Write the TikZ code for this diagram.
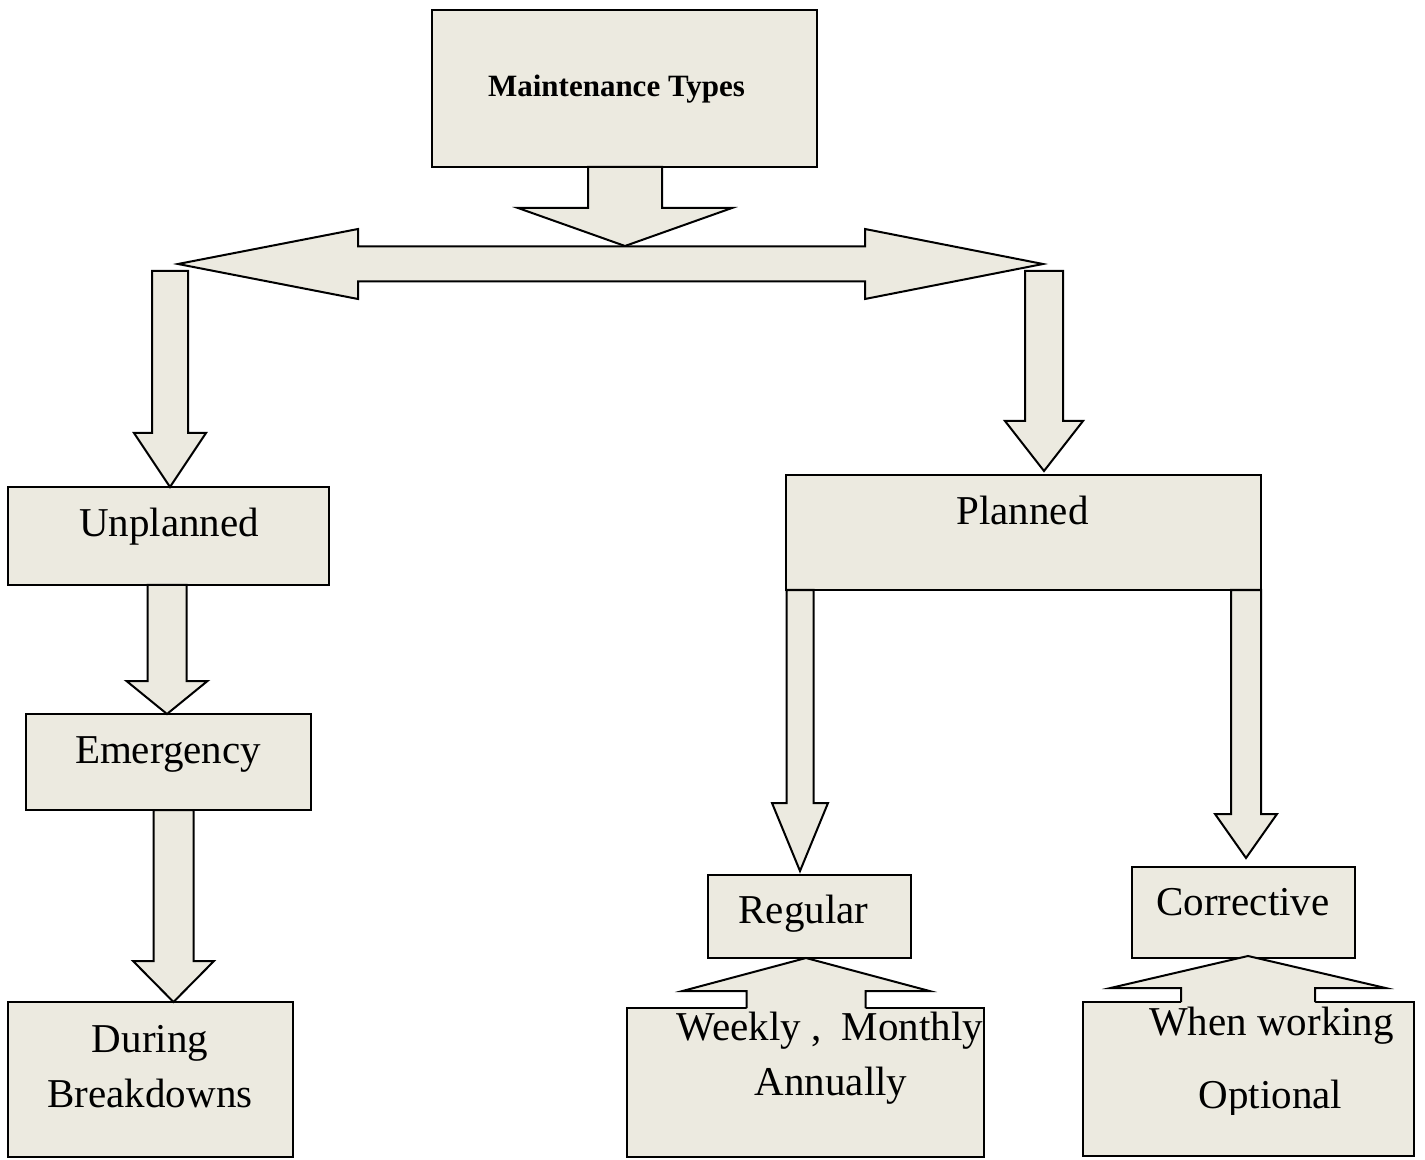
\documentclass[tikz,border=0pt]{standalone}
\usepackage{fontspec}
\setmainfont{Liberation Serif}
\usetikzlibrary{calc}

\definecolor{boxfill}{RGB}{236,234,224}

\tikzset{
  box/.style={draw=black, line width=1pt, fill=boxfill, inner sep=0pt, outer sep=0pt},
  blockarrow/.style={draw=black, line width=1pt, fill=boxfill, line join=miter},
  blockline/.style={draw=black, line width=1pt, line join=miter},
  lbl/.style={inner sep=0pt, anchor=base, font=\fontsize{20.5}{24}\selectfont},
  title/.style={inner sep=0pt, anchor=base, font=\fontsize{15.5}{18}\selectfont\bfseries},
}

% rectangle panel: name, centre x, centre y, width, height (drawing units)
\newcommand\panel[5]{%
  \node[box, minimum width=#4*0.5pt, minimum height=#5*0.5pt] (#1) at (#2,#3) {};}

% block arrow pointing down: start point (top of shaft), tip point,
% shaft half-width, head half-width, head length (drawing units)
\newcommand\downblock[5]{%
  \draw[blockarrow] let \p1=#1, \p2=#2 in
    (\x2-#3*0.5pt,\y1) -- (\x2-#3*0.5pt,\y2+#5*0.5pt) -- (\x2-#4*0.5pt,\y2+#5*0.5pt)
    -- (\x2,\y2) -- (\x2+#4*0.5pt,\y2+#5*0.5pt) -- (\x2+#3*0.5pt,\y2+#5*0.5pt)
    -- (\x2+#3*0.5pt,\y1) -- cycle;}

% block arrow pointing up, rising out of the top edge of a panel
\newcommand\upblock[5]{%
  \fill[boxfill] let \p1=#1, \p2=#2 in
    (\x2-#3*0.5pt,\y1-0.7pt) -- (\x2-#3*0.5pt,\y2-#5*0.5pt) -- (\x2-#4*0.5pt,\y2-#5*0.5pt)
    -- (\x2,\y2) -- (\x2+#4*0.5pt,\y2-#5*0.5pt) -- (\x2+#3*0.5pt,\y2-#5*0.5pt)
    -- (\x2+#3*0.5pt,\y1-0.7pt) -- cycle;
  \draw[blockline] let \p1=#1, \p2=#2 in
    (\x2-#3*0.5pt,\y1) -- (\x2-#3*0.5pt,\y2-#5*0.5pt) -- (\x2-#4*0.5pt,\y2-#5*0.5pt)
    -- (\x2,\y2) -- (\x2+#4*0.5pt,\y2-#5*0.5pt) -- (\x2+#3*0.5pt,\y2-#5*0.5pt)
    -- (\x2+#3*0.5pt,\y1);}

\begin{document}
\begin{tikzpicture}[x=0.5pt, y=-0.5pt]
\useasboundingbox (0,0) rectangle (1425,1160);

% panels
\panel{maint}{624.5}{88.5}{385}{157}
\panel{unpl}{168.5}{536}{321}{98}
\panel{emer}{168.5}{762}{285}{96}
\panel{during}{150.5}{1079.5}{285}{155}
\panel{planned}{1023.5}{532.5}{475}{115}
\panel{regular}{809.5}{916.5}{203}{83}
\panel{weekly}{805.5}{1082.5}{357}{149}
\panel{corr}{1243.5}{912.5}{223}{91}
\panel{when}{1248.5}{1079}{331}{154}

% split arrow under the title
\coordinate (hubtop) at (625,246);
\coordinate (ltip) at (178,264);
\coordinate (rtip) at (1043,264);
\coordinate (lsrc) at (170,271);
\coordinate (rsrc) at (1044,271);

\downblock{(maint.south)}{(hubtop)}{37}{107}{38}
\draw[blockarrow] (ltip) -- (358,229) -- (358,246.5) -- (865,246.5) -- (865,229)
  -- (rtip) -- (865,299) -- (865,281.5) -- (358,281.5) -- (358,299) -- cycle;

% branch arrows
\downblock{(lsrc)}{($(unpl.north)+(1.5,0)$)}{18}{36}{54}
\downblock{(rsrc)}{($(planned.north)+(20.5,-4)$)}{19}{39}{50}
\downblock{($(unpl.south)+(-2,0)$)}{($(emer.north)+(-1.5,0)$)}{19.5}{40.5}{33}
\downblock{(emer.south)}{($(during.north)+(23,0)$)}{20}{40.5}{41}
\downblock{(planned.south)}{($(regular.north)+(-9.5,-4)$)}{13.5}{28}{68}
\downblock{(planned.south)}{($(corr.north)+(2.5,-9)$)}{15}{31}{44}
\upblock{(weekly.north)}{($(regular.south)+(-3.5,0)$)}{59.5}{123.5}{33}
\upblock{(when.north)}{($(corr.south)+(4.5,-2)$)}{67}{137.5}{32}

% texts
\node[title] (tmaint) at (616.5,97) {Maintenance Types};
\node[lbl] (tunpl) at (169,537) {Unplanned};
\node[lbl] (temer) at (168,763) {Emergency};
\node[lbl] (tduring) at (150,1052) {During};
\node[lbl] (tbreak) at (150,1107) {Breakdowns};
\node[lbl] (tplanned) at (1022.5,524) {Planned};
\node[lbl] (tregular) at (803.5,923) {Regular};
\node[lbl] (tcorr) at (1243,915) {Corrective};
\node[lbl] (tweekly) at (830,1040) {Weekly ,~~Monthly};
\node[lbl] (tannual) at (831,1095) {Annually};
\node[lbl] (twhen) at (1271.5,1035) {When working};
\begin{scope}
  \clip (1083,1002) rectangle (1414,1114);
  \node[lbl] (toptional) at (1270.5,1108) {Optional};
\end{scope}
\end{tikzpicture}
\end{document}
